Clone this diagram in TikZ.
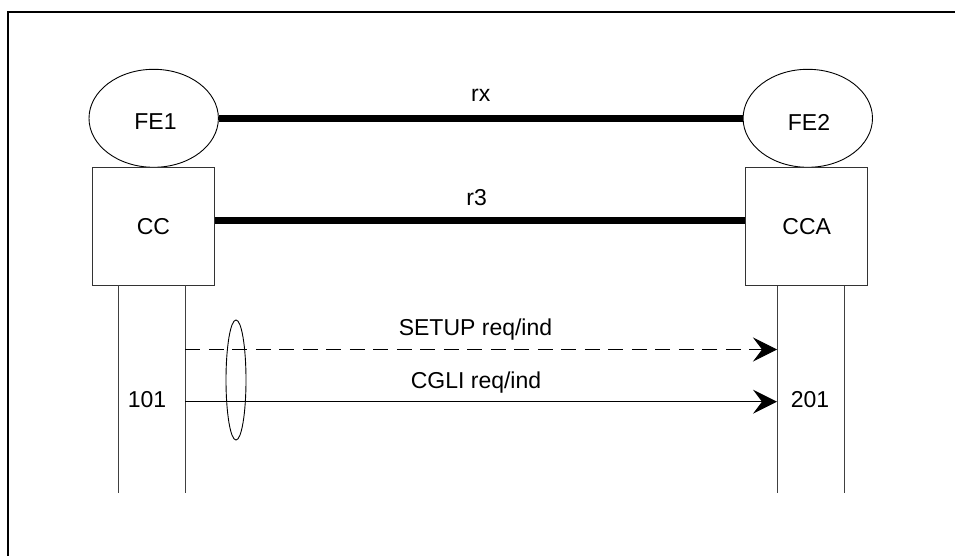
\documentclass[tikz,border=0pt]{standalone}
\usepackage{fontspec}
\setmainfont{Liberation Sans}
\usetikzlibrary{shapes.geometric,arrows.meta}
\begin{document}
\begin{tikzpicture}[x=1pt,y=-1pt,
  every node/.style={font=\fontsize{23}{27}\selectfont, inner sep=0pt},
  fe/.style={draw, ellipse, line width=0.9pt, minimum width=129.4pt, minimum height=98pt},
  ccbox/.style={draw, rectangle, line width=1pt, draw=black!80, minimum width=121.5pt, minimum height=118pt},
  life/.style={line width=1pt, draw=black!75},
  thick link/.style={line width=7pt},
  msg/.style={line width=1pt, -{Stealth[length=24pt,width=24pt,inset=9pt]}},
  dashmsg/.style={msg, dash pattern=on 15pt off 8.5pt},
  lbl/.style={anchor=center}]
\useasboundingbox (0,0) rectangle (955,556);
% frame
\draw[line width=1.5pt] (8,556) -- (8,12) -- (955,12);
% entities
\node[fe] (FE1) at (153.7,118.3) {};
\node at (155.5,122) {FE1};
\node[fe] (FE2) at (807.8,118.3) {};
\node at (809,122) {FE2};
\node[ccbox] (CC) at (153.4,226.2) {CC};
\node[ccbox, minimum width=122pt] (CCA) at (806.7,226.6) {CCA};
% links
\draw[thick link] (FE1.east) -- (FE2.west) node[pos=0.5, above=13pt, font=\fontsize{23}{27}\selectfont] (rx) {rx};
\draw[thick link] (CC.east |- 0,220) coordinate (r3a) -- (CCA.west |- 0,220) coordinate (r3b);
\node (r3) at (476.7,198) {r3};
% lifelines
\coordinate (L1t) at (118.3,285.2);
\coordinate (L1b) at (118.3,493);
\coordinate (L2t) at (185.3,285.2);
\coordinate (L2b) at (185.3,493);
\coordinate (R1t) at (777,285.6);
\coordinate (R1b) at (777,493);
\coordinate (R2t) at (844.3,285.6);
\coordinate (R2b) at (844.3,493);
\draw[life] (L1t) -- (L1b);
\draw[life] (L2t) -- (L2b);
\draw[life] (R1t) -- (R1b);
\draw[life] (R2t) -- (R2b);
% messages
\coordinate (s1) at (185.3,349.5);
\coordinate (s2) at (777,349.5);
\coordinate (c1) at (185.3,401.7);
\coordinate (c2) at (777,401.7);
\draw[dashmsg] (s1) -- (s2);
\draw[msg] (c1) -- (c2);
\node (setup) at (475.5,330) {SETUP req/ind};
\node (cgli) at (476,383) {CGLI req/ind};
% grouping ellipse
\node[draw, ellipse, line width=0.9pt, minimum width=20pt, minimum height=120pt] (grp) at (236,380) {};
% numbers
\node (n101) at (147,400) {101};
\node (n201) at (810,400) {201};
\end{tikzpicture}
\end{document}
